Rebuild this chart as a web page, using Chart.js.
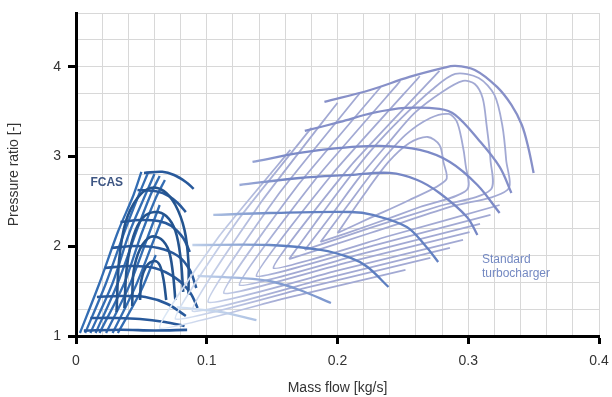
<!DOCTYPE html>
<html><head><meta charset="utf-8">
<script src="https://cdn.jsdelivr.net/npm/chart.js@4.4.1/dist/chart.umd.min.js"></script>
<style>html,body{margin:0;padding:0;background:#fff;}canvas{display:block;}</style>
</head><body>
<canvas id="c" width="612" height="397"></canvas>
<script>
// ---- axis ticks / grid ----
const xTickLabels = [0, 0.1, 0.2, 0.3, 0.4];
const yTickLabels = [1, 2, 3, 4];
const xGridValues = [0,0.02,0.04,0.06,0.08,0.1,0.12,0.14,0.16,0.18,0.2,0.22,0.24,0.26,0.28,0.3,0.32,0.34,0.36,0.38,0.4];
const yGridValues = [1,1.3,1.6,1.9,2.2,2.5,2.8,3.1,3.4,3.7,4,4.3,4.6];

// ---- Standard turbocharger: speed lines [mass flow, pressure ratio] ----
const stdSpeed1 = [[0.190,3.609],[0.225,3.742],[0.255,3.887],[0.281,3.988],[0.290,4.010],[0.305,3.965],[0.322,3.776],[0.333,3.575],[0.341,3.352],[0.346,3.096],[0.350,2.817]];
const stdSpeed2 = [[0.175,3.285],[0.202,3.386],[0.227,3.486],[0.252,3.542],[0.278,3.531],[0.290,3.464],[0.308,3.185],[0.324,2.884],[0.333,2.594]];
const stdSpeed3 = [[0.135,2.940],[0.171,3.040],[0.202,3.096],[0.232,3.118],[0.263,3.074],[0.286,2.940],[0.307,2.683],[0.324,2.371]];
const stdSpeed4 = [[0.125,2.683],[0.171,2.761],[0.210,2.795],[0.240,2.817],[0.261,2.739],[0.278,2.594],[0.299,2.327],[0.307,2.126]];
const stdSpeed5 = [[0.105,2.349],[0.148,2.371],[0.210,2.382],[0.227,2.349],[0.253,2.215],[0.268,1.992],[0.277,1.825]];
const stdSpeed6 = [[0.089,2.014],[0.148,2.014],[0.187,1.959],[0.210,1.870],[0.223,1.769],[0.239,1.546]];
const stdSpeed7 = [[0.093,1.669],[0.125,1.647],[0.148,1.613],[0.171,1.513],[0.195,1.368]];
const stdSpeed8 = [[0.077,1.323],[0.110,1.268],[0.138,1.178]];

// ---- Standard turbocharger: efficiency contours (inner closed, outer open) ----
const stdEff0 = [[0.200,2.148],[0.219,2.550],[0.239,2.940],[0.255,3.152],[0.269,3.218],[0.278,3.129],[0.281,2.940],[0.283,2.739],[0.255,2.516],[0.225,2.316],[0.200,2.148]];
const stdEff1 = [[0.187,2.048],[0.208,2.460],[0.230,2.884],[0.252,3.241],[0.271,3.430],[0.285,3.475],[0.291,3.397],[0.295,3.185],[0.298,2.906],[0.299,2.628],[0.263,2.438],[0.225,2.237],[0.187,2.048]];
const stdEff2 = [[0.175,1.959],[0.196,2.360],[0.217,2.773],[0.239,3.152],[0.259,3.486],[0.280,3.720],[0.296,3.843],[0.305,3.809],[0.311,3.653],[0.314,3.352],[0.317,2.962],[0.317,2.628],[0.278,2.449],[0.225,2.204],[0.175,1.959]];
const stdEff3 = [[0.163,1.858],[0.183,2.260],[0.204,2.672],[0.226,3.074],[0.249,3.430],[0.272,3.742],[0.290,3.921],[0.308,3.876],[0.320,3.687],[0.326,3.352],[0.329,2.962],[0.330,2.628],[0.286,2.438],[0.225,2.148],[0.163,1.858]];
const stdEff4 = [[0.278,3.955],[0.210,2.897],[0.151,1.758],[0.238,2.109],[0.324,2.460]];
const stdEff5 = [[0.263,3.895],[0.197,2.822],[0.138,1.669],[0.228,2.009],[0.317,2.349]];
const stdEff6 = [[0.248,3.840],[0.183,2.745],[0.125,1.569],[0.217,1.909],[0.309,2.249]];
const stdEff7 = [[0.233,3.775],[0.169,2.667],[0.113,1.479],[0.207,1.819],[0.301,2.159]];
const stdEff8 = [[0.217,3.705],[0.155,2.582],[0.101,1.379],[0.199,1.725],[0.296,2.070]];
const stdEff9 = [[0.200,3.600],[0.141,2.480],[0.089,1.279],[0.188,1.630],[0.286,1.981]];
const stdEff10 = [[0.180,3.319],[0.124,2.295],[0.076,1.190],[0.174,1.530],[0.271,1.870]];
const stdEff11 = [[0.164,3.074],[0.110,2.122],[0.064,1.089],[0.158,1.413],[0.252,1.736]];

// ---- FCAS: steep fan lines ----
const fcasFan0 = [[0.003,1.033],[0.018,1.591],[0.032,2.159],[0.044,2.572],[0.050,2.828]];
const fcasFan1 = [[0.007,1.033],[0.023,1.591],[0.037,2.159],[0.048,2.572],[0.055,2.817]];
const fcasFan2 = [[0.011,1.033],[0.028,1.591],[0.041,2.159],[0.053,2.572],[0.060,2.806]];
const fcasFan3 = [[0.015,1.033],[0.032,1.591],[0.046,2.159],[0.057,2.572],[0.064,2.784]];
const fcasFan4 = [[0.018,1.033],[0.037,1.591],[0.050,2.137],[0.061,2.538],[0.068,2.739]];
const fcasFan5 = [[0.023,1.033],[0.041,1.569],[0.054,2.070],[0.064,2.460]];
const fcasFan6 = [[0.028,1.033],[0.046,1.569],[0.058,2.014],[0.067,2.349]];
const fcasFan7 = [[0.032,1.033],[0.050,1.513],[0.061,1.903]];

// ---- FCAS: speed lines ----
const fcasSpeed1 = [[0.052,2.817],[0.066,2.830],[0.075,2.795],[0.084,2.717],[0.090,2.640]];
const fcasSpeed2 = [[0.047,2.628],[0.062,2.610],[0.071,2.560],[0.078,2.480],[0.084,2.380]];
const fcasSpeed3 = [[0.034,2.271],[0.049,2.293],[0.063,2.282],[0.073,2.226],[0.082,2.093],[0.087,1.936]];
const fcasSpeed4 = [[0.027,1.981],[0.045,2.003],[0.063,1.981],[0.078,1.892],[0.087,1.736],[0.092,1.535]];
const fcasSpeed5 = [[0.022,1.758],[0.041,1.780],[0.060,1.758],[0.076,1.647],[0.087,1.491],[0.093,1.312]];
const fcasSpeed6 = [[0.016,1.435],[0.034,1.446],[0.053,1.435],[0.070,1.357],[0.084,1.223]];
const fcasSpeed7 = [[0.011,1.201],[0.030,1.201],[0.049,1.190],[0.068,1.156],[0.083,1.111]];
const fcasSpeed8 = [[0.006,1.060],[0.034,1.070],[0.060,1.062],[0.085,1.068]];

// ---- FCAS: efficiency islands ----
const fcasIsland1 = [[0.049,1.401],[0.050,1.624],[0.054,1.780],[0.060,1.836],[0.064,1.792],[0.067,1.624],[0.069,1.401]];
const fcasIsland2 = [[0.043,1.334],[0.044,1.713],[0.049,1.970],[0.057,2.104],[0.065,2.081],[0.071,1.948],[0.074,1.713],[0.076,1.401]];
const fcasIsland3 = [[0.037,1.312],[0.039,1.780],[0.044,2.115],[0.051,2.316],[0.060,2.382],[0.069,2.338],[0.076,2.171],[0.080,1.870],[0.082,1.491]];
const fcasIsland4 = [[0.031,1.268],[0.033,1.847],[0.038,2.271],[0.047,2.538],[0.057,2.650],[0.067,2.617],[0.076,2.460],[0.083,2.182],[0.086,1.825],[0.086,1.457]];

// ---- styling ----
const stdSpeedSeries = [stdSpeed1,stdSpeed2,stdSpeed3,stdSpeed4,stdSpeed5,stdSpeed6,stdSpeed7,stdSpeed8];
const stdSpeedColors = ['#8790c8','#838ec8','#7c8ac7','#7687c5','#6381c2','#5c7ec0','#7f99cf','#9fb6dd'];
const stdEffSeries = [stdEff0,stdEff1,stdEff2,stdEff3,stdEff4,stdEff5,stdEff6,stdEff7,stdEff8,stdEff9,stdEff10,stdEff11];
const fcasFanSeries = [fcasFan0,fcasFan1,fcasFan2,fcasFan3,fcasFan4,fcasFan5,fcasFan6,fcasFan7];
const fcasSpeedSeries = [fcasSpeed1,fcasSpeed2,fcasSpeed3,fcasSpeed4,fcasSpeed5,fcasSpeed6,fcasSpeed7,fcasSpeed8];
const fcasIslandSeries = [fcasIsland1,fcasIsland2,fcasIsland3,fcasIsland4];

const toPts = a => a.map(p => ({x:p[0], y:p[1]}));

function fadeColor(endColor){
  return function(ctx){
    const chart = ctx.chart;
    const xs = chart.scales && chart.scales.x;
    if(!xs || !chart.chartArea) return endColor;
    const g = chart.ctx.createLinearGradient(xs.getPixelForValue(0.07),0,xs.getPixelForValue(0.16),0);
    g.addColorStop(0,'#dbe7f5');
    g.addColorStop(1,endColor);
    return g;
  };
}

const datasets = [];
stdSpeedSeries.forEach((s,i)=>datasets.push({data:toPts(s),borderColor:fadeColor(stdSpeedColors[i]),borderWidth:2.3,tension:0.35,order:0}));
stdEffSeries.forEach((s,i)=>datasets.push({data:toPts(s),borderColor:fadeColor('#a2a9d3'),borderWidth:1.8,tension:i<4?0.3:0.12,order:1}));
fcasIslandSeries.forEach(s=>datasets.push({data:toPts(s),borderColor:'#24548f',borderWidth:2.6,tension:0.35,order:2}));
fcasSpeedSeries.forEach(s=>datasets.push({data:toPts(s),borderColor:'#28599b',borderWidth:2.6,tension:0.35,order:2}));
fcasFanSeries.forEach(s=>datasets.push({data:toPts(s),borderColor:'#336db3',borderWidth:2.3,tension:0.3,order:3}));

const textPlugin = {
  id:'mapLabels',
  afterDatasetsDraw(chart){
    const {ctx, scales:{x,y}} = chart;
    ctx.save();
    ctx.textBaseline = 'middle';
    ctx.textAlign = 'left';
    ctx.font = 'bold 12px "Liberation Sans", Arial, sans-serif';
    ctx.fillStyle = '#3e5683';
    ctx.fillText('FCAS', x.getPixelForValue(0.011), y.getPixelForValue(2.706));
    ctx.font = '12px "Liberation Sans", Arial, sans-serif';
    ctx.fillStyle = '#7489c2';
    ctx.fillText('Standard', x.getPixelForValue(0.3105), y.getPixelForValue(1.847));
    ctx.fillText('turbocharger', x.getPixelForValue(0.3105), y.getPixelForValue(1.691));
    ctx.restore();
  }
};

const near = (v, arr) => arr.some(a => Math.abs(a - v) < 1e-6);
const fontFam = '"Liberation Sans", Arial, sans-serif';

new Chart(document.getElementById('c'), {
  type:'scatter',
  data:{datasets},
  options:{
    responsive:false,
    animation:false,
    devicePixelRatio:1,
    layout:{padding:{top:13,right:13,left:0,bottom:0}},
    elements:{point:{radius:0},line:{fill:false}},
    datasets:{scatter:{showLine:true,pointRadius:0}},
    plugins:{legend:{display:false},tooltip:{enabled:false}},
    scales:{
      x:{
        type:'linear',min:0,max:0.4,
        afterBuildTicks(scale){ scale.ticks = xGridValues.map(v=>({value:v})); },
        afterFit(scale){ scale.height = 61; scale.paddingRight = 0; scale.paddingLeft = 0; },
        ticks:{autoSkip:false,maxRotation:0,padding:9,color:'#333',font:{size:14,family:fontFam},
          callback:(v)=> near(v,xTickLabels) ? String(Math.round(v*10)/10) : ''},
        grid:{color:'#d8d8d8',lineWidth:1,tickLength:8,
          tickColor:(c)=> near(c.tick.value,xTickLabels)?'#000':'rgba(0,0,0,0)',tickWidth:3},
        border:{display:true,color:'#000',width:3},
        title:{display:true,text:'Mass flow [kg/s]',color:'#333',font:{size:14,family:fontFam},padding:{top:4,bottom:0}}
      },
      y:{
        type:'linear',min:1,max:4.6,
        afterBuildTicks(scale){
          const all = yGridValues.concat(yTickLabels.filter(v=>!near(v,yGridValues))).sort((a,b)=>a-b);
          scale.ticks = all.map(v=>({value:v}));
        },
        afterFit(scale){ scale.width = 76; scale.paddingTop = 0; scale.paddingBottom = 0; },
        ticks:{autoSkip:false,padding:7,color:'#333',font:{size:14,family:fontFam},
          callback:(v)=> near(v,yTickLabels) ? String(v) : ''},
        grid:{color:(c)=> near(c.tick.value,yGridValues)?'#d8d8d8':'rgba(0,0,0,0)',lineWidth:1,tickLength:8,
          tickColor:(c)=> near(c.tick.value,yTickLabels)?'#000':'rgba(0,0,0,0)',tickWidth:3},
        border:{display:true,color:'#000',width:3},
        title:{display:true,text:'Pressure ratio [-]',color:'#333',font:{size:14,family:fontFam},padding:{top:6,bottom:0}}
      }
    }
  },
  plugins:[textPlugin]
});
</script>
</body></html>
